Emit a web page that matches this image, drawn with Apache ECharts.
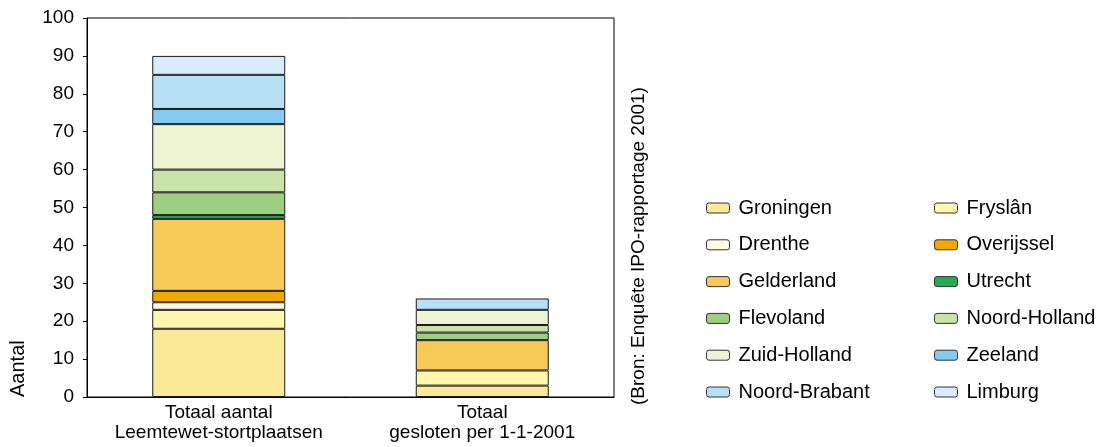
<!DOCTYPE html>
<html>
<head>
<meta charset="utf-8">
<script src="https://cdn.jsdelivr.net/npm/echarts@6/dist/echarts.min.js"></script>
<style>
html, body { margin: 0; padding: 0; background: #fff; }
#chart { width: 1111px; height: 447px; }
</style>
</head>
<body>
<div id="chart"></div>
<script>
var categories = ['Totaal aantal\nLeemtewet-stortplaatsen', 'Totaal\ngesloten per 1-1-2001'];
var provinces = ['Groningen', 'Fryslân', 'Drenthe', 'Overijssel', 'Gelderland', 'Utrecht',
	'Flevoland', 'Noord-Holland', 'Zuid-Holland', 'Zeeland', 'Noord-Brabant', 'Limburg'];
// aantal per provincie, zelfde volgorde als provinces
var totaal = [18, 5, 2, 3, 19, 1, 6, 6, 12, 4, 9, 5];
var gesloten = [3, 4, 0, 0, 8, 0, 2, 2, 4, 0, 3, 0];
var colors = ['#fae996', '#fff7ae', '#fffbe1', '#f0a900', '#f6c958', '#22ad50',
	'#9ccf82', '#c9e2a9', '#eef4d3', '#87caf0', '#b7dff6', '#d8ecfb'];

var font = 'Liberation Sans, Arial, sans-serif';

var series = [];
for (var i = 0; i < provinces.length; i++) {
	series.push({
		name : provinces[i],
		type : 'bar',
		stack : 'totaal',
		barWidth : 133,
		itemStyle : {
			color : colors[i],
			borderColor : '#1a1a1a',
			borderWidth : 1
		},
		emphasis : { disabled : true },
		data : [ totaal[i] || '-', gesloten[i] || '-' ]
	});
}

var leftCol = [], rightCol = [];
for (var j = 0; j < provinces.length; j++) {
	if (j % 2 == 0) leftCol.push(provinces[j]);
	else rightCol.push(provinces[j]);
}

function legendAt(x, data) {
	return {
		orient : 'vertical',
		left : x,
		top : 198,
		padding : 0,
		itemWidth : 23,
		itemHeight : 10,
		itemGap : 16.8,
		selectedMode : false,
		data : data,
		itemStyle : { borderColor : '#333', borderWidth : 1 },
		textStyle : { fontFamily : font, fontSize : 20, color : '#000', lineHeight : 20, padding : [0, 0, 0, 4] }
	};
}

var myChart = echarts.init(document.getElementById('chart'));
var option = {
	animation : false,
	textStyle : { fontFamily : font },
	grid : {
		left : 87, right : 497, top : 18, bottom : 50,
		show : true, borderColor : '#000', borderWidth : 1
	},
	legend : [ legendAt(706, leftCol), legendAt(934, rightCol) ],
	xAxis : {
		type : 'category',
		data : categories,
		axisLine : { lineStyle : { color : '#000', width : 1 } },
		axisTick : { length : 5, lineStyle : { color : '#000' } },
		axisLabel : { interval : 0, hideOverlap : false, color : '#000', fontSize : 19, lineHeight : 20, margin : 6, fontFamily : font }
	},
	yAxis : {
		type : 'value',
		min : 0, max : 100, interval : 10,
		splitLine : { show : false },
		axisLine : { show : true, lineStyle : { color : '#000', width : 1 } },
		axisTick : { show : true, length : 4, lineStyle : { color : '#000' } },
		axisLabel : { color : '#000', fontSize : 19, margin : 13, fontFamily : font }
	},
	graphic : [ {
		type : 'text',
		x : 18, y : 397,
		rotation : Math.PI / 2,
		style : { text : 'Aantal', font : '20px ' + font, fill : '#000', textAlign : 'left', textVerticalAlign : 'middle' }
	}, {
		type : 'text',
		x : 639, y : 405,
		rotation : Math.PI / 2,
		style : { text : '(Bron: Enquête IPO-rapportage 2001)', font : '19px ' + font, fill : '#000', textAlign : 'left', textVerticalAlign : 'middle' }
	} ],
	series : series
};
myChart.setOption(option);
</script>
</body>
</html>
